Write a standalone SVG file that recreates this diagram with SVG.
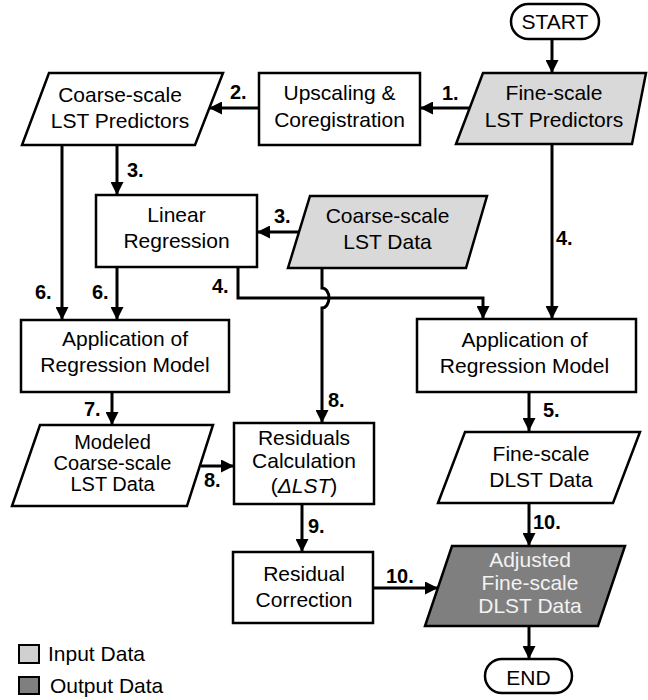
<svg xmlns="http://www.w3.org/2000/svg" width="648" height="700" viewBox="0 0 648 700">
  <style>
    .box { fill: #ffffff; stroke: #000000; stroke-width: 2.5; }
    .in { fill: #d9d9d9; }
    .out { fill: #7f7f7f; }
    .t { font-family: "Liberation Sans", Arial, sans-serif; font-size: 21px; fill: #000000; text-anchor: middle; }
    .ts { font-size: 20px; }
    .tw { fill: #f2f2f2; }
    .lbl { font-family: "Liberation Sans", Arial, sans-serif; font-size: 20px; font-weight: bold; fill: #000000; }
    .leg { font-family: "Liberation Sans", Arial, sans-serif; font-size: 21px; fill: #000000; }
    .ca { fill: none; stroke: #000000; stroke-width: 3; marker-end: url(#ah); }
  </style>
  <defs>
    <marker id="ah" viewBox="0 0 13 13" refX="13" refY="6.5" markerWidth="13" markerHeight="13" markerUnits="userSpaceOnUse" orient="auto">
      <path d="M0,0 L13,6.5 L0,13 z" fill="#000000"/>
    </marker>
  </defs>
  <rect width="648" height="700" fill="#ffffff"/>

  <!-- connectors -->
  <g id="connectors">
    <line class="ca" x1="552" y1="39" x2="552" y2="73"/>
    <line class="ca" x1="470" y1="108" x2="420" y2="108"/>
    <line class="ca" x1="259" y1="108" x2="209" y2="108"/>
    <line class="ca" x1="117" y1="145" x2="117" y2="195"/>
    <line class="ca" x1="62" y1="145" x2="62" y2="320"/>
    <line class="ca" x1="299" y1="232" x2="257" y2="232"/>
    <line class="ca" x1="117" y1="267" x2="117" y2="320"/>
    <polyline class="ca" points="238,267 238,298 483,298 483,319"/>
    <line class="ca" x1="552" y1="144" x2="552" y2="319"/>
    <!-- vertical line hops over the horizontal one -->
    <path class="ca" d="M322,268 V288 A7,10 0 0 1 322,308 V423"/>
    <line class="ca" x1="112" y1="392" x2="112" y2="425"/>
    <line class="ca" x1="201" y1="466" x2="234" y2="466"/>
    <line class="ca" x1="302" y1="504" x2="302" y2="552"/>
    <line class="ca" x1="529" y1="392" x2="529" y2="431"/>
    <line class="ca" x1="529" y1="502" x2="529" y2="546"/>
    <line class="ca" x1="373" y1="588" x2="438" y2="588"/>
    <line class="ca" x1="529" y1="626" x2="529" y2="659"/>

    <text class="lbl" x="442" y="100">1.</text>
    <text class="lbl" x="230" y="99">2.</text>
    <text class="lbl" x="127" y="177">3.</text>
    <text class="lbl" x="274" y="223">3.</text>
    <text class="lbl" x="212" y="293">4.</text>
    <text class="lbl" x="556" y="245">4.</text>
    <text class="lbl" x="35" y="299">6.</text>
    <text class="lbl" x="92" y="299">6.</text>
    <text class="lbl" x="84" y="416">7.</text>
    <text class="lbl" x="328" y="407">8.</text>
    <text class="lbl" x="204" y="487">8.</text>
    <text class="lbl" x="308" y="533">9.</text>
    <text class="lbl" x="543" y="417">5.</text>
    <text class="lbl" x="533" y="529">10.</text>
    <text class="lbl" x="386" y="583">10.</text>
  </g>

  <!-- nodes -->
  <g id="start">
    <rect class="box" x="511" y="4" width="88" height="35" rx="17.5"/>
    <text class="t" x="555" y="29">START</text>
  </g>

  <g id="fine-predictors">
    <polygon class="box in" points="483,73 646,73 632,144 456,144"/>
    <text class="t" x="554" y="100">Fine-scale</text>
    <text class="t" x="554" y="127">LST Predictors</text>
  </g>

  <g id="upscaling">
    <rect class="box" x="259" y="73" width="161" height="72"/>
    <text class="t" x="339.5" y="100">Upscaling &amp;</text>
    <text class="t" x="339.5" y="127">Coregistration</text>
  </g>

  <g id="coarse-predictors">
    <polygon class="box" points="49,73 223,73 195,145 22,145"/>
    <text class="t" x="120" y="102">Coarse-scale</text>
    <text class="t" x="120" y="128">LST Predictors</text>
  </g>

  <g id="linear-regression">
    <rect class="box" x="96" y="195" width="161" height="72"/>
    <text class="t" x="176.5" y="222">Linear</text>
    <text class="t" x="176.5" y="248">Regression</text>
  </g>

  <g id="coarse-lst">
    <polygon class="box in" points="310,196 487,196 466,268 288,268"/>
    <text class="t" x="387.5" y="223">Coarse-scale</text>
    <text class="t" x="387.5" y="249">LST Data</text>
  </g>

  <g id="apply-coarse">
    <rect class="box" x="21" y="320" width="208" height="72"/>
    <text class="t" x="125" y="346">Application of</text>
    <text class="t" x="125" y="372">Regression Model</text>
  </g>

  <g id="apply-fine">
    <rect class="box" x="417" y="319" width="219" height="73"/>
    <text class="t" x="524.5" y="347">Application of</text>
    <text class="t" x="524.5" y="373">Regression Model</text>
  </g>

  <g id="modeled-coarse">
    <polygon class="box" points="40,425 213,425 187,506 12,506"/>
    <text class="t ts" x="112.5" y="449">Modeled</text>
    <text class="t ts" x="112.5" y="470">Coarse-scale</text>
    <text class="t ts" x="112.5" y="491">LST Data</text>
  </g>

  <g id="residuals">
    <rect class="box" x="234" y="423" width="140" height="81"/>
    <text class="t" x="304" y="445">Residuals</text>
    <text class="t" x="304" y="468">Calculation</text>
    <text class="t" x="304" y="493">(<tspan font-style="italic">ΔLST</tspan>)</text>
  </g>

  <g id="residual-correction">
    <rect class="box" x="233" y="552" width="140" height="71"/>
    <text class="t" x="304" y="581">Residual</text>
    <text class="t" x="304" y="607">Correction</text>
  </g>

  <g id="fine-dlst">
    <polygon class="box" points="465,432 640,432 613,503 438,503"/>
    <text class="t" x="541" y="461">Fine-scale</text>
    <text class="t" x="541" y="487">DLST Data</text>
  </g>

  <g id="adjusted-dlst">
    <polygon class="box out" points="452,546 625,546 598,626 425,626"/>
    <text class="t tw" x="530" y="567">Adjusted</text>
    <text class="t tw" x="530" y="590">Fine-scale</text>
    <text class="t tw" x="530" y="613">DLST Data</text>
  </g>

  <g id="end">
    <rect class="box" x="485" y="659" width="87" height="34" rx="17"/>
    <text class="t" x="528.5" y="685">END</text>
  </g>

  <!-- legend -->
  <g id="legend">
    <rect x="19" y="645" width="20" height="18" fill="#d0d0d0" stroke="#000000" stroke-width="2"/>
    <text class="leg" x="48" y="661">Input Data</text>
    <rect x="19" y="677" width="20" height="17" fill="#7f7f7f" stroke="#000000" stroke-width="2"/>
    <text class="leg" x="50" y="693">Output Data</text>
  </g>
</svg>
